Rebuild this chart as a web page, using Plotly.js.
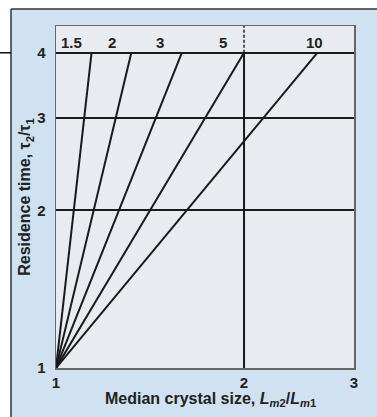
<!DOCTYPE html>
<html>
<head>
<meta charset="utf-8">
<script src="https://cdn.plot.ly/plotly-3.0.1.min.js"></script>
<style>html,body{margin:0;padding:0;background:#fff;}#chart{width:377px;height:417px;}</style>
</head>
<body>
<div id="chart"></div>
<script>
// Curve labels (kinetic order) and the size ratio each line reaches at tau2/tau1 = 4
const curveLabels = ['1.5', '2', '3', '5', '10'];
const sizeRatioStart = [1, 1, 1, 1, 1];
const timeRatioStart = [1, 1, 1, 1, 1];
const sizeRatioEnd = [1.14, 1.32, 1.59, 2.0, 2.62];
const timeRatioEnd = [4, 4, 4, 4, 4];
// Axis ticks
const xTickVals = [1, 2, 3];
const xTickText = ['1', '2', '3'];
const yTickVals = [1, 2, 3, 4];
const yTickText = ['1', '2', '3', '4'];
const xTitle = 'Median crystal size, <i>L<sub>m</sub></i><sub>2</sub>/<i>L<sub>m</sub></i><sub>1</sub>';
const yTitle = 'Residence time, τ<sub>2</sub>/τ<sub>1</sub>';

const fam = 'Liberation Sans, Arial, sans-serif';
const txtColor = '#222';

const traces = curveLabels.map((lab, i) => ({
  type: 'scatter', mode: 'lines', name: lab,
  x: [sizeRatioStart[i], sizeRatioEnd[i]],
  y: [timeRatioStart[i], timeRatioEnd[i]],
  line: {color: '#1a1a1a', width: 2},
  hoverinfo: 'skip', showlegend: false
}));

// label placement (layout only)
const labelX = [1.057, 1.229, 1.468, 1.85, 2.59];
const annotations = curveLabels.map((lab, i) => ({
  x: Math.log10(labelX[i]), y: Math.log10(4), xref: 'x', yref: 'y',
  text: '<b>' + lab + '</b>', showarrow: false, yanchor: 'bottom', yshift: 0,
  font: {family: fam, size: 15, color: txtColor}
}));
annotations.push({
  x: 0.52, y: -0.092, xref: 'paper', yref: 'paper', xanchor: 'center', yanchor: 'middle',
  text: '<b>' + xTitle + '</b>', showarrow: false, borderpad: 0,
  font: {family: fam, size: 16, color: txtColor}
});

const shapes = [
  // white outside the panel
  {type: 'rect', xref: 'paper', yref: 'paper', x0: -0.3, x1: -0.151, y0: -0.3, y1: 1.2,
   fillcolor: '#ffffff', line: {width: 0}, layer: 'above'},
  {type: 'rect', xref: 'paper', yref: 'paper', x0: -0.3, x1: 1.3, y0: 1.0497, y1: 1.2,
   fillcolor: '#ffffff', line: {width: 0}, layer: 'above'},
  // panel border
  {type: 'line', xref: 'paper', yref: 'paper', x0: -0.151, x1: -0.151, y0: -0.3, y1: 1.0497,
   line: {color: '#333', width: 1.5}, layer: 'above'},
  {type: 'line', xref: 'paper', yref: 'paper', x0: -0.151, x1: 1.3, y0: 1.0497, y1: 1.0497,
   line: {color: '#333', width: 1.5}, layer: 'above'},
  // stub at left
  {type: 'line', xref: 'paper', yref: 'y', x0: -0.2, x1: -0.151, y0: 4, y1: 4,
   line: {color: '#111', width: 1.5}, layer: 'above'},
  // vertical line at x = 2
  {type: 'line', xref: 'x', yref: 'y', x0: 2, x1: 2, y0: 1, y1: 4,
   line: {color: '#1a1a1a', width: 2}, layer: 'below'},
  {type: 'line', xref: 'x', yref: 'y', x0: 2, x1: 2, y0: 4, y1: 4.5,
   line: {color: '#000', width: 1.3, dash: '3px,2px'}, layer: 'below'}
];

const layout = {
  width: 377, height: 417,
  margin: {l: 56, r: 23, t: 26, b: 49},
  paper_bgcolor: '#d0e1f2',
  plot_bgcolor: '#e8ecf0',
  font: {family: fam, size: 15, color: txtColor},
  showlegend: false,
  xaxis: {
    type: 'log', range: [0, Math.log10(3)],
    tickvals: xTickVals, ticktext: xTickText.map(t => '<b>' + t + '</b>'),
    ticks: '', showgrid: false, zeroline: false,
    showline: true, mirror: true, linecolor: '#666', linewidth: 1.5,
    tickfont: {size: 15}, ticklabelstandoff: 0
  },
  yaxis: {
    type: 'log', range: [0, Math.log10(4.5)],
    tickvals: yTickVals, ticktext: yTickText.map(t => '<b>' + t + '</b>'),
    ticks: '', showgrid: true, gridcolor: '#1a1a1a', gridwidth: 2, zeroline: false,
    showline: true, mirror: true, linecolor: '#666', linewidth: 1.5,
    tickfont: {size: 15}, ticklabelstandoff: 6,
    title: {text: '<b>' + yTitle + '</b>', font: {size: 16}, standoff: 2}
  },
  shapes: shapes,
  annotations: annotations
};

Plotly.newPlot('chart', traces, layout, {staticPlot: true, displayModeBar: false});
</script>
</body>
</html>
